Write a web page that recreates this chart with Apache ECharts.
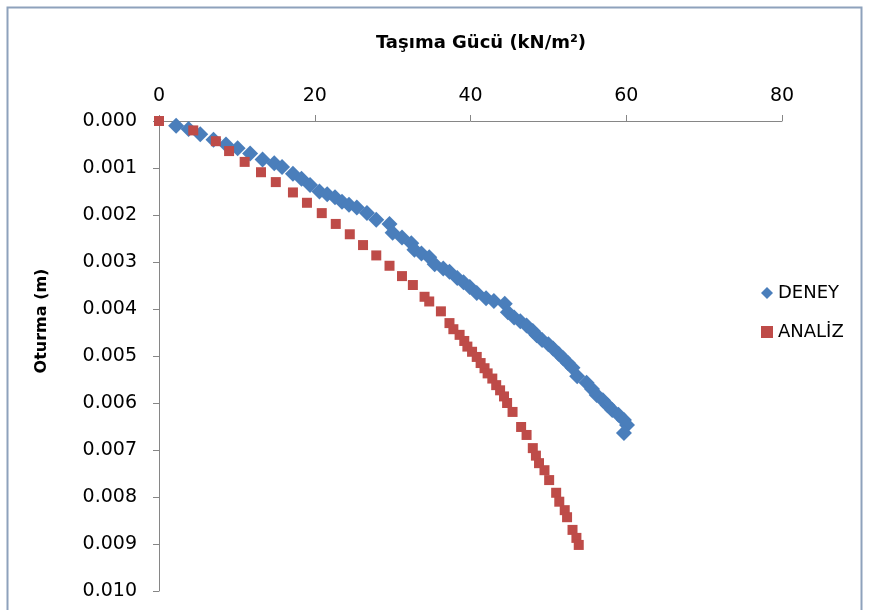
<!DOCTYPE html>
<html>
<head>
<meta charset="utf-8">
<script src="https://cdn.jsdelivr.net/npm/echarts@6/dist/echarts.min.js"></script>
<style>
  html, body { margin: 0; padding: 0; background: #fff; }
  #chart { width: 870px; height: 610px; }
</style>
</head>
<body>
<div id="chart"></div>
<script>
// eksen ayarlari
var xTicks = [0, 20, 40, 60, 80];
var yTicks = [0, 0.001, 0.002, 0.003, 0.004, 0.005, 0.006, 0.007, 0.008, 0.009, 0.010];

// DENEY: [tasima gucu, oturma]
var deneyX = [2.2, 3.8, 5.3, 7.0, 8.6, 10.1, 11.7, 13.3, 14.8, 15.8, 17.2, 18.3, 19.4, 20.6, 21.6,
    22.6, 23.5, 24.4, 25.4, 26.7, 27.9, 29.6, 30.0, 31.2, 32.4, 32.8, 33.7, 34.7, 35.4, 36.5,
    37.3, 38.3, 39.1, 39.9, 40.8, 42.0, 43.0, 44.4, 44.8, 45.6, 46.4, 47.2, 48.0, 48.5, 49.2,
    50.0, 50.6, 51.3, 51.9, 52.5, 53.1, 53.7, 54.9, 55.6, 56.2, 57.0, 57.6, 58.2, 59.0, 59.7,
    60.1, 59.7];
var deneyY = [0.00010, 0.00017, 0.00028, 0.00040, 0.00050, 0.00058, 0.00069, 0.00082, 0.00090, 0.00098,
    0.00112, 0.00123, 0.00136, 0.00150, 0.00156, 0.00162, 0.00172, 0.00178, 0.00184, 0.00196,
    0.00210, 0.00219, 0.00238, 0.00248, 0.00260, 0.00274, 0.00282, 0.00290, 0.00305, 0.00314,
    0.00321, 0.00334, 0.00343, 0.00353, 0.00366, 0.00377, 0.00383, 0.00389, 0.00407, 0.00418,
    0.00426, 0.00435, 0.00447, 0.00456, 0.00466, 0.00475, 0.00484, 0.00495, 0.00505, 0.00515,
    0.00525, 0.00543, 0.00557, 0.00570, 0.00583, 0.00594, 0.00605, 0.00615, 0.00625, 0.00636,
    0.00647, 0.00664];

// ANALIZ
var analizX = [0, 4.4, 7.3, 9.0, 11.0, 13.1, 15.0, 17.2, 19.0, 20.9, 22.7, 24.5, 26.2, 27.9, 29.6,
    31.2, 32.6, 34.1, 34.7, 36.2, 37.3, 37.8, 38.6, 39.2, 39.6, 40.2, 40.8, 41.3, 41.8, 42.2,
    42.8, 43.3, 43.8, 44.3, 44.7, 45.4, 46.5, 47.2, 48.0, 48.4, 48.8, 49.5, 50.1, 51.0, 51.4,
    52.1, 52.4, 53.1, 53.6, 53.9];
var analizY = [0, 0.00020, 0.00043, 0.00064, 0.00087, 0.00109, 0.00130, 0.00152, 0.00174, 0.00196,
    0.00219, 0.00241, 0.00264, 0.00286, 0.00308, 0.00330, 0.00349, 0.00374, 0.00384, 0.00405,
    0.00430, 0.00443, 0.00455, 0.00468, 0.00480, 0.00491, 0.00502, 0.00515, 0.00526, 0.00537,
    0.00548, 0.00562, 0.00573, 0.00586, 0.00600, 0.00619, 0.00651, 0.00668, 0.00696, 0.00712,
    0.00728, 0.00743, 0.00764, 0.00791, 0.00810, 0.00828, 0.00843, 0.00870, 0.00887, 0.00902];

function zip(xs, ys) {
    var out = [];
    for (var i = 0; i < xs.length; i++) {
        out.push([xs[i], ys[i]]);
    }
    return out;
}

var font = '"DejaVu Sans", sans-serif';
var axisGray = '#868686';

var chart = echarts.init(document.getElementById('chart'));
chart.setOption({
    backgroundColor: '#fff',
    animation: false,
    textStyle: { fontFamily: font },
    graphic: [
        {
            type: 'rect',
            shape: { x: 7.5, y: 7.5, width: 854, height: 620 },
            style: { fill: 'none', stroke: '#8ea2bc', lineWidth: 2 },
            silent: true
        },
        {
            // y ekseni basligi (grafikte ortanin biraz ustunde)
            type: 'text',
            x: 42,
            y: 321,
            rotation: Math.PI / 2,
            style: {
                text: 'Oturma (m)',
                fill: '#000',
                font: 'bold 16px "DejaVu Sans", sans-serif',
                textAlign: 'center',
                textVerticalAlign: 'middle'
            },
            silent: true
        }
    ],
    title: {
        text: 'Taşıma Gücü (kN/m²)',
        left: 476,
        textAlign: 'center',
        top: 29,
        textStyle: { fontFamily: font, fontSize: 18, fontWeight: 'bold', color: '#000' }
    },
    legend: {
        orient: 'vertical',
        left: 756,
        top: 279,
        itemGap: 21,
        itemWidth: 12,
        itemHeight: 12,
        textStyle: { fontFamily: font, fontSize: 18, color: '#000' },
        data: [
            { name: 'DENEY', icon: 'diamond' },
            { name: 'ANALİZ', icon: 'rect' }
        ]
    },
    grid: { left: 159, top: 121, width: 623, height: 470 },
    xAxis: {
        type: 'value',
        position: 'top',
        min: 0,
        max: 80,
        interval: 20,
        axisLine: { show: true, lineStyle: { color: axisGray } },
        axisTick: { show: true, length: 6, lineStyle: { color: axisGray } },
        splitLine: { show: false },
        axisLabel: { fontFamily: font, fontSize: 19, color: '#000', margin: 15 }
    },
    yAxis: {
        type: 'value',
        inverse: true,
        min: 0,
        max: 0.01,
        interval: 0.001,
        axisLine: { show: true, lineStyle: { color: axisGray } },
        axisTick: { show: true, length: 6, lineStyle: { color: axisGray } },
        splitLine: { show: false },
        axisLabel: {
            fontFamily: font, fontSize: 19, color: '#000', margin: 22,
            formatter: function (v) { return v.toFixed(3); }
        }
    },
    series: [
        {
            name: 'DENEY',
            type: 'scatter',
            symbol: 'diamond',
            symbolSize: 16,
            itemStyle: { color: '#4a7ebb', opacity: 1 },
            data: zip(deneyX, deneyY)
        },
        {
            name: 'ANALİZ',
            type: 'scatter',
            symbol: 'rect',
            symbolSize: 10,
            itemStyle: { color: '#be4b48', opacity: 1 },
            data: zip(analizX, analizY)
        }
    ]
});
</script>
</body>
</html>
